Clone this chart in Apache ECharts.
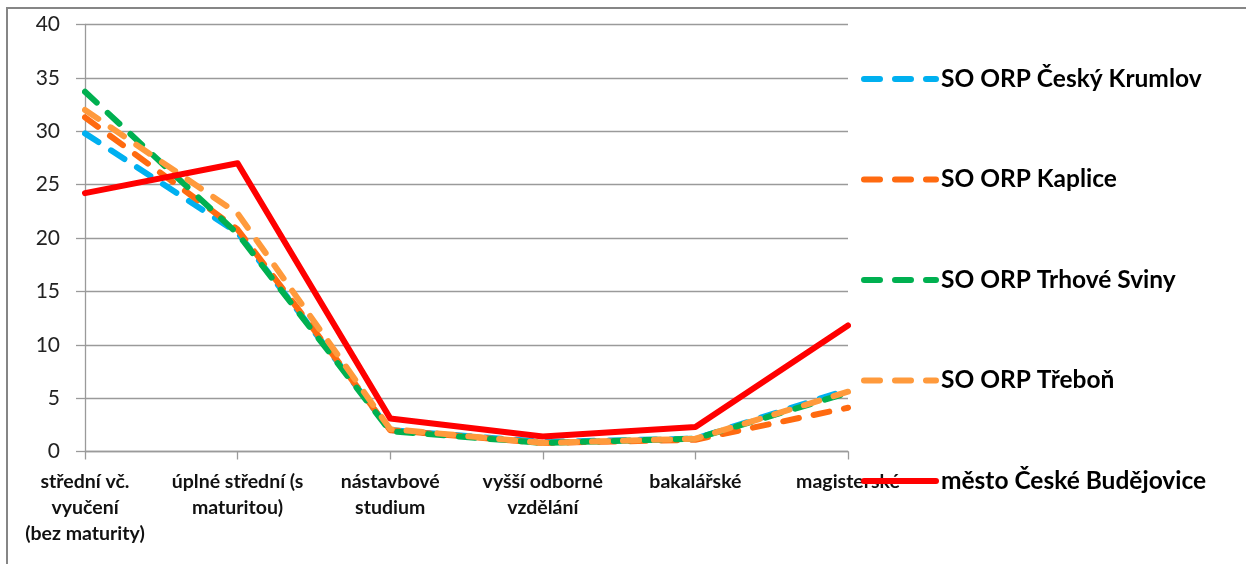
<!DOCTYPE html>
<html>
<head>
<meta charset="utf-8">
<script src="https://cdn.jsdelivr.net/npm/echarts@6/dist/echarts.min.js"></script>
<style>
html,body{margin:0;padding:0;background:#fff;}
#chart{width:1246px;height:564px;}
</style>
</head>
<body>
<div id="chart"></div>
<script>
var categories = ['střední vč.\nvyučení\n(bez maturity)', 'úplné střední (s\nmaturitou)', 'nástavbové\nstudium', 'vyšší odborné\nvzdělání', 'bakalářské', 'magisterské'];
var seriesNames = ['SO ORP Český Krumlov', 'SO ORP Kaplice', 'SO ORP Trhové Sviny', 'SO ORP Třeboň', 'město České Budějovice'];
var krumlov = [29.8, 20.5, 2.0, 0.9, 1.2, 5.8];
var kaplice = [31.3, 20.8, 2.0, 0.8, 1.1, 4.1];
var trhoveSviny = [33.7, 20.4, 1.9, 0.8, 1.2, 5.5];
var trebon = [32.0, 22.3, 2.1, 0.8, 1.2, 5.6];
var budejovice = [24.2, 27.0, 3.1, 1.4, 2.3, 11.8];
var yTicks = [0, 5, 10, 15, 20, 25, 30, 35, 40];

var colors = ['#00B0F0', '#FF6A10', '#00B050', '#FF9A3C', '#FF0000'];
var values = [krumlov, kaplice, trhoveSviny, trebon, budejovice];

var font = 'Lato, "Open Sans", sans-serif';
var chart = echarts.init(document.getElementById('chart'));

var series = values.map(function (v, i) {
  var solid = i === 4;
  return {
    name: seriesNames[i],
    type: 'line',
    data: v,
    symbol: 'none',
    smooth: false,
    z: 2 + i,
    lineStyle: {
      color: colors[i],
      width: 6,
      type: solid ? 'solid' : [16, 15],
      cap: 'round',
      join: 'round'
    },
    itemStyle: { color: colors[i] }
  };
});

chart.setOption({
  animation: false,
  backgroundColor: '#fff',
  grid: { left: 85, right: 398, top: 24.5, bottom: 112.5, containLabel: false },
  legend: {
    orient: 'vertical',
    left: 861,
    top: 66.5,
    padding: 0,
    itemWidth: 72,
    itemHeight: 24,
    itemGap: 75.5,
    z: 10,
    data: seriesNames,
    itemStyle: { opacity: 0 },
    lineStyle: { width: 6, cap: 'round' },
    textStyle: { fontFamily: font, fontSize: 24.5, fontWeight: 'bold', color: '#000' }
  },
  xAxis: {
    type: 'category',
    data: categories,
    boundaryGap: false,
    axisLine: { lineStyle: { color: '#9a9a9a', width: 1.3 } },
    axisTick: { show: true, length: 8, alignWithLabel: true, lineStyle: { color: '#9a9a9a', width: 1.3 } },
    axisLabel: {
      interval: 0,
      margin: 17.5,
      fontFamily: font,
      fontSize: 19.5,
      fontWeight: 'bold',
      lineHeight: 26,
      color: '#111'
    },
    splitLine: { show: false }
  },
  yAxis: {
    type: 'value',
    min: yTicks[0],
    max: yTicks[yTicks.length - 1],
    interval: 5,
    axisLine: { show: true, lineStyle: { color: '#9a9a9a', width: 1.3 } },
    axisTick: { show: true, length: 9, lineStyle: { color: '#9a9a9a', width: 1.3 } },
    axisLabel: { margin: 25, fontFamily: font, fontSize: 21, color: '#222' },
    splitLine: { show: true, lineStyle: { color: '#9a9a9a', width: 1.3 } }
  },
  graphic: [
    { type: 'polyline', shape: { points: [[7, 564], [7, 8], [1246, 8]] }, style: { stroke: '#868686', lineWidth: 2, fill: null }, silent: true }
  ],
  series: series
});
</script>
</body>
</html>
